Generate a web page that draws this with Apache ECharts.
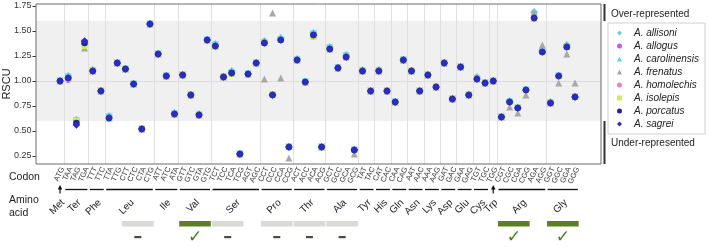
<!DOCTYPE html>
<html><head><meta charset="utf-8">
<script src="https://cdn.jsdelivr.net/npm/echarts@6/dist/echarts.min.js"></script>
<style>html,body{margin:0;padding:0;background:#fff}#c{width:709px;height:247px}</style>
</head><body><div id="c"></div>
<script>
const FONT = '"Liberation Sans", Arial, sans-serif';
const codons = ['ATG','TAA','TAG','TGA','TTT','TTC','TTA','TTG','CTT','CTC','CTA','CTG','ATT','ATC','ATA','GTT','GTC','GTA','GTG','TCT','TCC','TCA','TCG','AGT','AGC','CCT','CCC','CCA','CCG','ACT','ACC','ACA','ACG','GCT','GCC','GCA','GCG','TAT','TAC','CAT','CAC','CAA','CAG','AAT','AAC','AAA','AAG','GAT','GAC','GAA','GAG','TGT','TGC','TGG','CGT','CGC','CGA','CGG','AGA','AGG','GGT','GGC','GGA','GGG'];
const aminoAcids = ['Met','Ter','Ter','Ter','Phe','Phe','Leu','Leu','Leu','Leu','Leu','Leu','Ile','Ile','Ile','Val','Val','Val','Val','Ser','Ser','Ser','Ser','Ser','Ser','Pro','Pro','Pro','Pro','Thr','Thr','Thr','Thr','Ala','Ala','Ala','Ala','Tyr','Tyr','His','His','Gln','Gln','Asn','Asn','Lys','Lys','Asp','Asp','Glu','Glu','Cys','Cys','Trp','Arg','Arg','Arg','Arg','Arg','Arg','Gly','Gly','Gly','Gly'];
const speciesNames = ['A. allisoni','A. allogus','A. carolinensis','A. frenatus','A. homolechis','A. isolepis','A. porcatus','A. sagrei'];

const allisoni = [1.00,1.05,0.61,1.37,1.11,0.90,0.65,1.18, 1.12,0.97,0.52,1.57,1.27,1.05,0.68,1.06, 0.86,0.67,1.41,1.37,1.04,1.10,0.27,1.07, 1.18,1.40,0.86,1.43,0.34,1.22,0.99,1.48, 0.34,1.34,1.13,1.26,0.31,1.11,0.90,1.11, 0.90,0.79,1.21,1.10,0.90,1.06,0.94,1.18, 0.82,1.14,0.86,1.04,0.98,1.00,0.64,0.80, 0.73,0.91,1.69,1.31,0.79,1.05,1.36,0.84];
const allogus = [1.00,1.01,0.59,1.38,1.10,0.90,0.63,1.18, 1.12,0.97,0.52,1.57,1.27,1.05,0.67,1.06, 0.86,0.66,1.41,1.35,1.04,1.08,0.27,1.07, 1.18,1.38,0.86,1.41,0.34,1.21,0.99,1.46, 0.34,1.32,1.14,1.24,0.31,1.10,0.90,1.10, 0.90,0.79,1.21,1.10,0.90,1.06,0.94,1.18, 0.82,1.14,0.86,1.02,0.98,1.00,0.64,0.79, 0.73,0.91,1.63,1.29,0.78,1.05,1.34,0.84];
const carolinensis = [1.00,1.04,0.60,1.38,1.10,0.90,0.64,1.18, 1.12,0.97,0.52,1.57,1.27,1.05,0.67,1.06, 0.86,0.66,1.41,1.36,1.04,1.08,0.27,1.07, 1.18,1.38,0.86,1.41,0.34,1.21,0.99,1.47, 0.34,1.33,1.13,1.25,0.31,1.10,0.90,1.10, 0.90,0.79,1.21,1.10,0.90,1.06,0.94,1.18, 0.82,1.14,0.86,1.02,0.98,1.00,0.64,0.79, 0.73,0.91,1.66,1.29,0.78,1.05,1.34,0.84];
const frenatus = [1.00,1.03,0.60,1.33,1.10,0.90,0.63,1.18, 1.12,0.97,0.52,1.57,1.27,1.05,0.67,1.06, 0.86,0.66,1.41,1.35,1.04,1.08,0.27,1.07, 1.18,1.02,1.68,1.03,0.23,1.21,0.99,1.46, 0.34,1.32,1.13,1.24,0.27,1.10,0.90,1.10, 0.90,0.79,1.21,1.10,0.90,1.06,0.94,1.18, 0.82,1.14,0.86,1.02,0.98,1.00,0.64,0.74, 0.68,0.86,1.69,1.36,0.78,0.98,1.27,0.98];
const homolechis = [1.00,1.03,0.58,1.38,1.10,0.90,0.63,1.18, 1.12,0.97,0.52,1.57,1.27,1.05,0.67,1.06, 0.86,0.66,1.41,1.35,1.04,1.08,0.27,1.07, 1.18,1.38,0.86,1.41,0.34,1.21,0.99,1.46, 0.34,1.32,1.13,1.24,0.31,1.10,0.90,1.10, 0.90,0.79,1.21,1.10,0.90,1.06,0.94,1.18, 0.82,1.14,0.86,1.02,0.98,1.00,0.64,0.79, 0.73,0.91,1.63,1.29,0.78,1.05,1.34,0.84];
const isolepis = [1.00,1.03,0.60,1.35,1.10,0.90,0.63,1.18, 1.12,0.97,0.52,1.57,1.27,1.05,0.67,1.06, 0.86,0.66,1.41,1.35,1.04,1.07,0.27,1.07, 1.18,1.38,0.86,1.41,0.34,1.21,0.99,1.44, 0.34,1.32,1.13,1.24,0.31,1.10,0.90,1.10, 0.90,0.79,1.21,1.10,0.90,1.06,0.94,1.18, 0.82,1.14,0.86,1.02,0.98,1.00,0.64,0.79, 0.73,0.91,1.62,1.29,0.78,1.05,1.34,0.84];
const porcatus = [1.00,1.03,0.58,1.38,1.10,0.90,0.63,1.18, 1.12,0.97,0.52,1.57,1.27,1.05,0.67,1.06, 0.86,0.66,1.41,1.35,1.04,1.08,0.27,1.07, 1.18,1.38,0.86,1.41,0.34,1.21,0.99,1.46, 0.34,1.32,1.13,1.24,0.31,1.10,0.90,1.10, 0.90,0.79,1.21,1.10,0.90,1.06,0.94,1.18, 0.82,1.14,0.86,1.02,0.98,1.00,0.64,0.79, 0.73,0.91,1.63,1.29,0.78,1.05,1.34,0.84];
const sagrei = [1.00,1.03,0.56,1.40,1.10,0.90,0.63,1.18, 1.12,0.97,0.52,1.57,1.27,1.05,0.67,1.06, 0.86,0.66,1.41,1.35,1.04,1.08,0.27,1.07, 1.18,1.38,0.86,1.41,0.34,1.21,0.99,1.46, 0.34,1.32,1.13,1.24,0.31,1.10,0.90,1.10, 0.90,0.79,1.21,1.10,0.90,1.06,0.94,1.18, 0.82,1.14,0.86,1.02,0.98,1.00,0.64,0.79, 0.73,0.91,1.63,1.29,0.78,1.05,1.34,0.84];

const yTicks = [0.25,0.50,0.75,1.00,1.25,1.50,1.75];
const bandLow = 0.6, bandHigh = 1.6;
const familyNames = ['Leu','Val','Ser','Pro','Thr','Ala','Arg','Gly'];
const familyFirstCodon = ['CTT','GTT','TCT','CCT','ACT','GCT','CGT','GGT'];
const familyStatus = ['-','✓','-','-','-','-','✓','✓'];

const X_MIN = -2.94, X_MAX = 66.18, Y_MIN = 0.17, Y_MAX = 1.77;

const groups = [];
aminoAcids.forEach((aa, i) => {
  const last = groups[groups.length - 1];
  if (last && last.name === aa) last.end = i; else groups.push({name: aa, start: i, end: i});
});
const boundaries = groups.slice(1).map(g => g.start - 0.5);

const seriesStyle = [
  {data: allisoni, symbol: 'diamond', size: 8, color: '#6ccfcf'},
  {data: allogus, symbol: 'circle', size: 6, color: '#c25ee6'},
  {data: carolinensis, symbol: 'triangle', size: 7, color: '#5fd2f3', rotate: 180},
  {data: frenatus, symbol: 'triangle', size: 7, color: '#a8a8a8'},
  {data: homolechis, symbol: 'circle', size: 4, color: '#f27fc6'},
  {data: isolepis, symbol: 'rect', size: 6, color: '#c8f060'},
  {data: porcatus, symbol: 'circle', size: 6.5, color: '#24248f'},
  {data: sagrei, symbol: 'diamond', size: 7.5, color: '#2c2cc4'}
];

const chart = echarts.init(document.getElementById('c'), null, {renderer: 'canvas'});

const series = [];
series.push({
  type: 'line', data: [], silent: true, z: 0,
  markArea: {silent: true, itemStyle: {color: '#f0f0f0'}, data: [[{yAxis: bandLow}, {yAxis: bandHigh}]]}
});
series.push({
  type: 'line', data: [], silent: true, z: 1,
  markLine: {silent: true, symbol: 'none', label: {show: false},
    lineStyle: {color: '#e0e0e0', width: 1, type: 'solid'},
    data: boundaries.map(b => ({xAxis: b})).concat([{yAxis: 1.0, lineStyle: {color: '#dcdcdc'}}])}
});
seriesStyle.forEach((s, k) => {
  series.push({
    name: speciesNames[k], type: 'scatter', z: 3 + k,
    symbol: s.symbol, symbolSize: s.size, symbolRotate: s.rotate || 0, symbolKeepAspect: true,
    itemStyle: {color: s.color, opacity: 1},
    data: s.data.map((v, i) => [i, v])
  });
});

series.push({
  type: 'custom', silent: true, clip: false, z: 20,
  data: codons.map((c, i) => [i, Y_MIN]),
  renderItem: (params, api) => {
    const p = api.coord([api.value(0), Y_MIN]);
    return {type: 'text', x: p[0] + 2.5, y: p[1] + 3.5, rotation: 65 * Math.PI / 180,
      style: {text: codons[params.dataIndex], fontSize: 7.5, fill: '#333', align: 'right', verticalAlign: 'middle', fontFamily: FONT}};
  }
});
series.push({
  type: 'custom', silent: true, clip: false, z: 20,
  data: groups.map(g => [(g.start + g.end) / 2, Y_MIN]),
  renderItem: (params, api) => {
    const g = groups[params.dataIndex];
    const yb = api.coord([0, Y_MIN])[1];
    const lineY = yb + 25.5;
    const xs = api.coord([g.start - 0.35, Y_MIN])[0];
    const xe = api.coord([g.end + 0.35, Y_MIN])[0];
    const xc = api.coord([(g.start + g.end) / 2, Y_MIN])[0];
    const ch = [];
    if (g.start === g.end) {
      ch.push({type: 'line', shape: {x1: xc, y1: lineY + 4, x2: xc, y2: lineY - 1}, style: {stroke: '#111', lineWidth: 1.2}});
      ch.push({type: 'polygon', shape: {points: [[xc, lineY - 4.5], [xc - 2.3, lineY], [xc + 2.3, lineY]]}, style: {fill: '#111'}});
    } else {
      ch.push({type: 'line', shape: {x1: xs, y1: lineY, x2: xe, y2: lineY}, style: {stroke: '#111', lineWidth: 1.3}});
    }
    ch.push({type: 'text', x: xc + 3, y: yb + 37, rotation: Math.PI / 4,
      style: {text: g.name, fontSize: 10, fill: '#222', align: 'right', verticalAlign: 'middle', fontFamily: FONT}});
    return {type: 'group', children: ch};
  }
});
series.push({
  type: 'custom', silent: true, clip: false, z: 20,
  data: familyFirstCodon.map(c => [codons.indexOf(c) + 1.5, Y_MIN]),
  renderItem: (params, api) => {
    const k = params.dataIndex;
    const s = codons.indexOf(familyFirstCodon[k]);
    const yb = api.coord([0, Y_MIN])[1];
    const x0 = api.coord([s - 0.42, Y_MIN])[0];
    const x1 = api.coord([s + 3 + 0.45, Y_MIN])[0];
    const xc = (x0 + x1) / 2;
    const ok = familyStatus[k] === '✓';
    const ch = [{type: 'rect', shape: {x: x0, y: yb + 57, width: x1 - x0, height: 5.5}, style: {fill: ok ? '#5b7f22' : '#d8dad3'}}];
    if (ok) {
      ch.push({type: 'text', x: xc, y: yb + 74, style: {text: '✓', fontSize: 17, fill: '#4f7a1a', align: 'center', verticalAlign: 'middle', fontFamily: '"DejaVu Sans", sans-serif'}});
    } else {
      ch.push({type: 'rect', shape: {x: xc - 3.5, y: yb + 72, width: 7, height: 2.2}, style: {fill: '#4a4a4a'}});
    }
    return {type: 'group', children: ch};
  }
});
series.push({
  type: 'custom', silent: true, clip: false, z: 20,
  data: [[X_MAX, bandHigh]],
  renderItem: (params, api) => {
    const top = api.coord([X_MAX, Y_MAX]);
    const a = api.coord([X_MAX, bandHigh]);
    const b = api.coord([X_MAX, bandLow]);
    const bot = api.coord([X_MAX, Y_MIN]);
    const x = top[0] + 3.5;
    return {type: 'group', children: [
      {type: 'line', shape: {x1: x, y1: top[1], x2: x, y2: a[1]}, style: {stroke: '#333', lineWidth: 2}},
      {type: 'line', shape: {x1: x, y1: b[1], x2: x, y2: bot[1]}, style: {stroke: '#333', lineWidth: 2}},
      {type: 'text', x: x + 6.5, y: top[1] + 10, style: {text: 'Over-represented', fontSize: 10, fill: '#222', align: 'left', verticalAlign: 'middle', fontFamily: FONT}},
      {type: 'text', x: x + 6.5, y: (b[1] + bot[1]) / 2 + 1, style: {text: 'Under-represented', fontSize: 10, fill: '#222', align: 'left', verticalAlign: 'middle', fontFamily: FONT}}
    ]};
  }
});

chart.setOption({
  animation: false,
  backgroundColor: '#fff',
  grid: {left: 36, right: 108, top: 4, bottom: 83, containLabel: false, outerBoundsMode: 'none',
    show: true, z: 30, borderColor: '#6a6a6a', borderWidth: 1, backgroundColor: 'transparent'},
  xAxis: {type: 'value', min: X_MIN, max: X_MAX, axisLine: {show: false, onZero: false}, axisTick: {show: false}, axisLabel: {show: false}, splitLine: {show: false}},
  yAxis: {type: 'value', min: Y_MIN, max: Y_MAX, position: 'left',
    name: 'RSCU', nameLocation: 'middle', nameGap: 24, nameMoveOverlap: false,
    nameTextStyle: {fontSize: 11, color: '#222', fontFamily: FONT},
    axisLine: {show: false, onZero: false},
    axisTick: {show: true, length: 3.5, customValues: yTicks, lineStyle: {color: '#333', width: 1}},
    axisLabel: {customValues: yTicks, fontSize: 9, color: '#333', margin: 4.5, fontFamily: FONT, formatter: v => v.toFixed(2)},
    splitLine: {show: false}},
  legend: {
    data: speciesNames, orient: 'vertical', left: 608, top: 23, padding: [4, 6, 4, 9],
    itemWidth: 5, itemHeight: 5, itemGap: 1, selectedMode: false,
    borderColor: '#d0d0d0', borderWidth: 1,
    textStyle: {fontSize: 10, fontStyle: 'italic', color: '#222', fontFamily: FONT, lineHeight: 12, padding: [0, 0, 0, 7]}
  },
  graphic: [
    {type: 'text', left: 9, top: 172, style: {text: 'Codon', fontSize: 10.5, fill: '#222', fontFamily: FONT}},
    {type: 'text', left: 9, top: 195, style: {text: 'Amino', fontSize: 10.5, fill: '#222', fontFamily: FONT}},
    {type: 'text', left: 9, top: 208, style: {text: 'acid', fontSize: 10.5, fill: '#222', fontFamily: FONT}}
  ],
  series: series
});
</script>
</body></html>
